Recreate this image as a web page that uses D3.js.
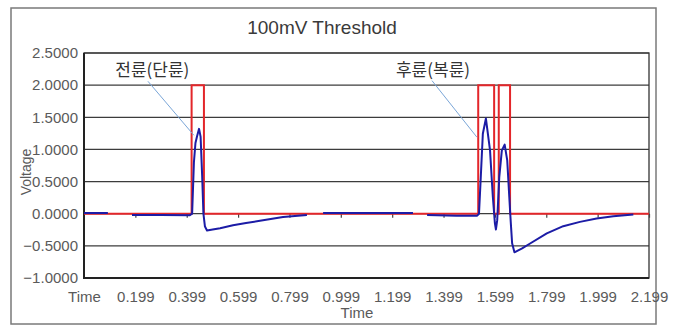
<!DOCTYPE html>
<html>
<head>
<meta charset="utf-8">
<script src="https://cdn.jsdelivr.net/npm/d3@7"></script>
<style>
  body { margin: 0; background: #fff; }
  svg { display: block; }
</style>
</head>
<body>
<div id="chart"></div>
<script>
// threshold output (red square wave), time in s / voltage in V
var outTime = [-0.001, 0.418, 0.418, 0.466, 0.466, 1.534, 1.534, 1.596, 1.596, 1.614, 1.614, 1.658, 1.658, 2.199];
var outVolt = [0, 0, 2, 2, 0, 0, 2, 2, 0, 0, 2, 2, 0, 0];

// sensor signal (blue), null = gap in the record
var sigTime = [-0.001, 0.092, null,
  0.186, 0.300, 0.410, 0.420, 0.427, 0.433, 0.439, 0.447, 0.453, 0.459, 0.464, 0.470, 0.478,
  0.500, 0.529, 0.579, 0.630, 0.684, 0.774, 0.867, null,
  0.930, 1.280, null,
  1.335, 1.450, 1.530, 1.537, 1.544, 1.552, 1.564, 1.580, 1.591, 1.599, 1.603, 1.608, 1.616,
  1.626, 1.637, 1.647, 1.655, 1.661, 1.666, 1.675, 1.705, 1.736, 1.801, 1.865, 1.930, 1.995, 2.060, 2.138];
var sigVolt = [0.01, 0.01, null,
  -0.02, -0.02, -0.025, 0.0, 0.8, 1.1, 1.2, 1.32, 1.2, 0.6, 0.0, -0.2, -0.26,
  -0.245, -0.225, -0.18, -0.145, -0.11, -0.05, -0.02, null,
  0.01, 0.01, null,
  -0.02, -0.03, -0.03, 0.0, 0.57, 1.245, 1.48, 0.986, 0.26, -0.15, -0.245, -0.1, 0.57,
  0.986, 1.075, 0.83, 0.26, -0.15, -0.46, -0.6, -0.54, -0.463, -0.307, -0.194, -0.127, -0.075, -0.039, -0.013];

var yTicks = [-1, -0.5, 0, 0.5, 1, 1.5, 2, 2.5];
var xTicks = [-0.001, 0.199, 0.399, 0.599, 0.799, 0.999, 1.199, 1.399, 1.599, 1.799, 1.999, 2.199];
var xTickLabels = ["Time", "0.199", "0.399", "0.599", "0.799", "0.999", "1.199", "1.399", "1.599", "1.799", "1.999", "2.199"];

var notes = [
  {text: "전륜(단륜)", t: 0.265, v: 2.24, t1: 0.248, v1: 2.06, t2: 0.427, v2: 1.22},
  {text: "후륜(복륜)", t: 1.358, v: 2.24, t1: 1.354, v1: 2.07, t2: 1.529, v2: 1.19}
];

var W = 682, H = 325;
var font = "'Liberation Sans', Arial, sans-serif";

var svg = d3.select("#chart").append("svg")
  .attr("width", W).attr("height", H);

// outer frame
svg.append("rect")
  .attr("x", 11).attr("y", 8).attr("width", 645).attr("height", 316)
  .attr("fill", "#fff").attr("stroke", "#7a7a7a").attr("stroke-width", 1.5);

svg.append("text")
  .attr("x", 322).attr("y", 34)
  .attr("text-anchor", "middle")
  .style("font-family", font).style("font-size", "19px")
  .attr("fill", "#3a3a3a")
  .text("100mV Threshold");

var x = d3.scaleLinear().domain([-0.001, 2.199]).range([84, 649]);
var y = d3.scaleLinear().domain([-1, 2.5]).range([278, 53]);

// gridlines
svg.append("g").selectAll("line")
  .data(yTicks).enter().append("line")
  .attr("x1", x.range()[0]).attr("x2", x.range()[1])
  .attr("y1", function(d){ return y(d); })
  .attr("y2", function(d){ return y(d); })
  .attr("stroke", "#3c3c3c").attr("stroke-width", 1.2);

// plot border
svg.append("rect")
  .attr("x", 84).attr("y", y(2.5)).attr("width", 565).attr("height", y(-1) - y(2.5))
  .attr("fill", "none").attr("stroke", "#333").attr("stroke-width", 1.3);
svg.append("path")
  .attr("d", "M84," + y(2.5) + "V" + y(-1) + "H649")
  .attr("fill", "none").attr("stroke", "#222").attr("stroke-width", 2);

// tick marks on the zero line
var zeroAxis = svg.append("g")
  .attr("transform", "translate(0," + y(0) + ")")
  .call(d3.axisBottom(x).tickValues(xTicks.slice(1)).tickSize(4).tickFormat(""));
zeroAxis.select(".domain").remove();
zeroAxis.selectAll("line").attr("stroke", "#444").attr("stroke-width", 1.2);

// x labels
var xAxis = svg.append("g")
  .attr("transform", "translate(0," + y(-1) + ")")
  .call(d3.axisBottom(x).tickValues(xTicks).tickSize(0).tickPadding(13)
    .tickFormat(function(d, i){ return xTickLabels[i]; }));
xAxis.select(".domain").remove();
xAxis.selectAll("text").style("font-family", font).style("font-size", "15px").attr("fill", "#5a5a5a");

// y labels
var yAxis = svg.append("g")
  .attr("transform", "translate(84,0)")
  .call(d3.axisLeft(y).tickValues(yTicks).tickSize(0).tickPadding(6).tickFormat(d3.format(".4f")));
yAxis.select(".domain").remove();
yAxis.selectAll("text").style("font-family", font).style("font-size", "15px").attr("fill", "#5a5a5a");

svg.append("text")
  .attr("transform", "translate(31,172) rotate(-90)")
  .attr("text-anchor", "middle")
  .style("font-family", font).style("font-size", "14px")
  .attr("fill", "#5a5a5a")
  .text("Voltage");

svg.append("text")
  .attr("x", 357).attr("y", 318)
  .attr("text-anchor", "middle")
  .style("font-family", font).style("font-size", "15px")
  .attr("fill", "#5a5a5a")
  .text("Time");

// series
var line = d3.line()
  .defined(function(d){ return d[1] !== null; })
  .x(function(d){ return x(d[0]); })
  .y(function(d){ return y(d[1]); });

svg.append("path")
  .datum(outTime.map(function(t, i){ return [t, outVolt[i]]; }))
  .attr("d", line)
  .attr("fill", "none").attr("stroke", "#e3262a").attr("stroke-width", 2);

svg.append("path")
  .datum(sigTime.map(function(t, i){ return [t, sigVolt[i]]; }))
  .attr("d", line)
  .attr("fill", "none").attr("stroke", "#1c1ca6").attr("stroke-width", 2)
  .attr("stroke-linejoin", "round");

// annotations
var ann = svg.append("g").selectAll("g").data(notes).enter().append("g");
ann.append("line")
  .attr("x1", function(d){ return x(d.t1); }).attr("y1", function(d){ return y(d.v1); })
  .attr("x2", function(d){ return x(d.t2); }).attr("y2", function(d){ return y(d.v2); })
  .attr("stroke", "#7aa6d8").attr("stroke-width", 1);
ann.append("text")
  .attr("x", function(d){ return x(d.t); }).attr("y", function(d){ return y(d.v); })
  .attr("dy", "0.35em")
  .attr("text-anchor", "middle")
  .style("font-family", "'Noto Sans CJK KR', sans-serif").style("font-size", "17px")
  .attr("fill", "#333")
  .text(function(d){ return d.text; });
</script>
</body>
</html>
